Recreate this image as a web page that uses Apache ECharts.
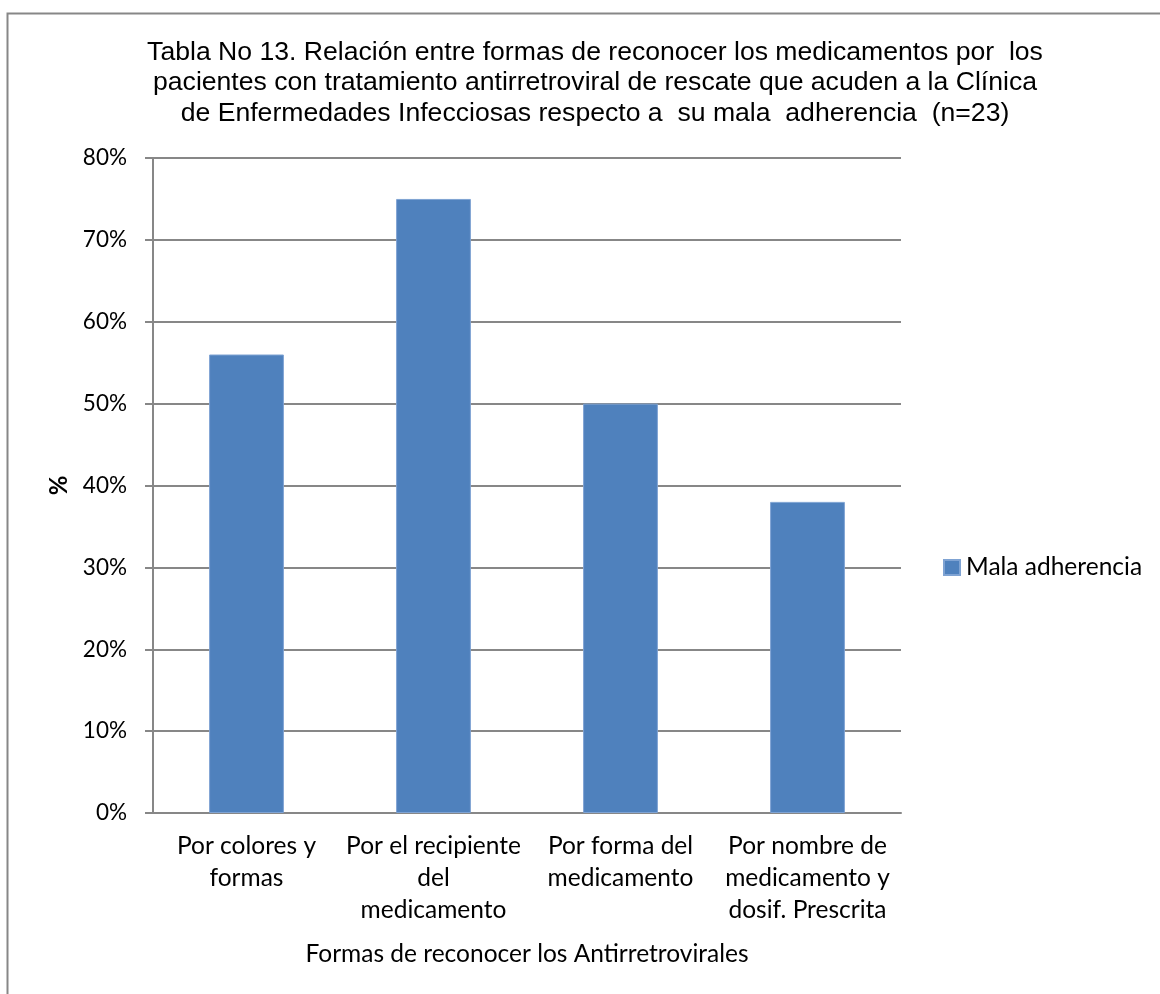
<!DOCTYPE html>
<html>
<head>
<meta charset="utf-8">
<script src="https://cdn.jsdelivr.net/npm/echarts@6/dist/echarts.min.js"></script>
<style>
  html, body { margin: 0; padding: 0; background: #ffffff; }
  #chart { width: 1160px; height: 994px; }
</style>
</head>
<body>
<div id="chart"></div>
<script>
// Categories (tick labels on the x axis)
const categories = [
  'Por colores y\nformas',
  'Por el recipiente\ndel\nmedicamento',
  'Por forma del\nmedicamento',
  'Por nombre de\nmedicamento y\ndosif. Prescrita'
];
// Percentage of patients with poor adherence
const malaAdherencia = [56, 75, 50, 38];
const seriesName = 'Mala adherencia';
const titleText = 'Tabla No 13. Relación entre formas de reconocer los medicamentos por  los\n' +
  'pacientes con tratamiento antirretroviral de rescate que acuden a la Clínica\n' +
  'de Enfermedades Infecciosas respecto a  su mala  adherencia  (n=23)';
const xAxisTitle = 'Formas de reconocer los Antirretrovirales';
const yAxisTitle = '%';

const labelFont = 'Lato, "Open Sans", sans-serif';
const gray = '#878787';

const chart = echarts.init(document.getElementById('chart'), null, { renderer: 'canvas' });
chart.setOption({
  backgroundColor: '#ffffff',
  animation: false,
  graphic: [{
    type: 'rect',
    shape: { x: 7.5, y: 13.5, width: 1300, height: 1100 },
    style: { fill: 'none', stroke: gray, lineWidth: 2 },
    silent: true
  }],
  title: {
    text: titleText,
    left: 590,
    top: 32,
    textAlign: 'center',
    textStyle: {
      fontFamily: '"Liberation Sans", Arial, sans-serif',
      fontSize: 26.6,
      fontWeight: 'normal',
      lineHeight: 30.5,
      color: '#000000'
    }
  },
  legend: {
    data: [seriesName],
    left: 943,
    top: 555,
    padding: 0,
    icon: 'rect',
    itemWidth: 16,
    itemHeight: 15,
    textStyle: { fontFamily: labelFont, fontSize: 24.5, color: '#000000', padding: [0, 0, 0, 1] }
  },
  grid: { left: 153, right: 259, top: 158, bottom: 181, containLabel: false },
  xAxis: {
    type: 'category',
    data: categories,
    axisLine: { show: true, lineStyle: { color: gray, width: 2 } },
    axisTick: { show: false },
    axisLabel: {
      interval: 0,
      margin: 17,
      fontFamily: labelFont,
      fontSize: 24.5,
      lineHeight: 32,
      color: '#000000',
      align: 'center'
    },
    name: xAxisTitle,
    nameLocation: 'middle',
    nameGap: 129,
    nameTextStyle: { fontFamily: labelFont, fontSize: 24.5, color: '#000000' }
  },
  yAxis: {
    type: 'value',
    min: 0,
    max: 80,
    interval: 10,
    axisLine: { show: true, lineStyle: { color: gray, width: 2 } },
    axisTick: { show: true, length: 8, lineStyle: { color: gray, width: 2 } },
    splitLine: { show: true, lineStyle: { color: gray, width: 2 } },
    axisLabel: {
      margin: 26,
      formatter: '{value}%',
      fontFamily: labelFont,
      fontSize: 22.5,
      color: '#000000'
    },
    name: yAxisTitle,
    nameLocation: 'middle',
    nameRotate: 90,
    nameGap: 82,
    nameTextStyle: { fontFamily: labelFont, fontSize: 24, fontWeight: 'bold', color: '#000000' }
  },
  series: [{
    name: seriesName,
    type: 'bar',
    data: malaAdherencia,
    barWidth: '40%',
    itemStyle: { color: '#4F81BD', borderColor: '#7FA3D3', borderWidth: 1 }
  }]
});
</script>
</body>
</html>
